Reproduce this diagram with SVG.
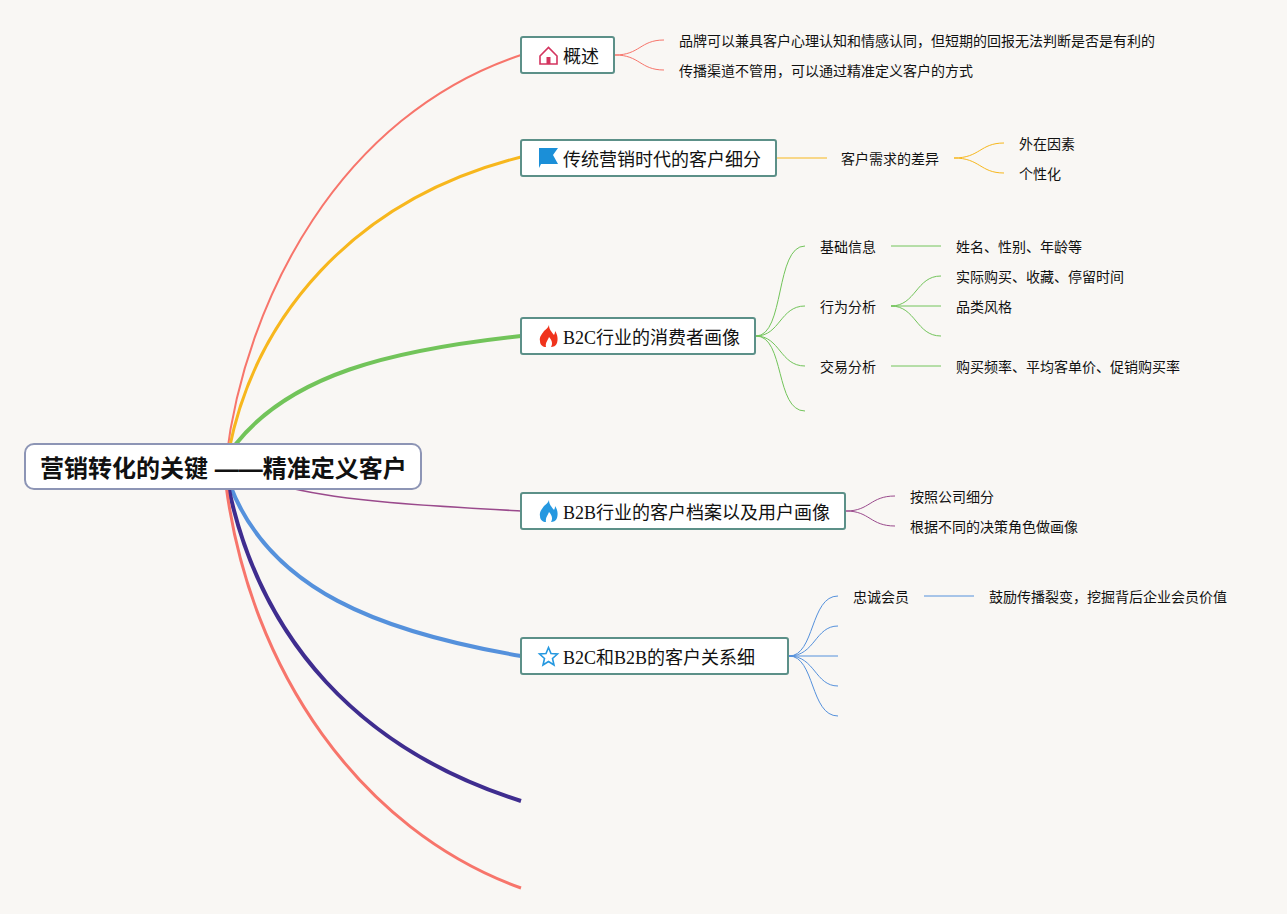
<svg xmlns="http://www.w3.org/2000/svg" width="1287" height="914" viewBox="0 0 1287 914">
<style>
text{font-family:"Liberation Serif","Noto Sans CJK SC",serif;fill:#111}
.l{font-size:14px;font-family:"Liberation Sans","Noto Sans CJK SC",sans-serif}
.m{font-size:18px}
.b{fill:#fff;stroke:#5c9088;stroke-width:2}
.c{fill:none}
</style>
<defs>
<path id="flame" d="M549 325C549 330 552 332 554 335C555 333 555 332 555 331C558 335 558 340 557 343C556 346 553 347 551 347C553 344 552 340 549 337C548 340 545 343 546 347C543 347 540 345 540 341C539 337 542 334 544 331C546 329 548 328 549 325Z"/>
</defs>
<rect width="1287" height="914" fill="#f9f7f4"/>
<g id="connectors" class="c">
<path d="M226 460C245 300 340 115 521 55" stroke="#f7756b" stroke-width="2"/>
<path d="M229 450C255 320 350 200 521 157" stroke="#f7b71d" stroke-width="3"/>
<path d="M235 445C290 375 390 350 521 336" stroke="#72c45a" stroke-width="4"/>
<path d="M290 488C350 502 430 506 521 511" stroke="#9a4a8c" stroke-width="1.600"/>
<path d="M230 485C270 590 380 632 521 656" stroke="#5591dc" stroke-width="4"/>
<path d="M228 485C260 640 360 750 521 801" stroke="#3f2d8f" stroke-width="4"/>
<path d="M226 485C250 670 360 830 521 888" stroke="#f7756b" stroke-width="3"/>
<g stroke="#f7756b" stroke-width="1">
<path d="M615 55C640 55 640 40 664 40"/><path d="M615 55C640 55 640 70 664 70"/>
</g>
<g stroke="#f7b71d" stroke-width="1">
<path d="M777 158H827"/>
<path d="M954 158C980 158 980 143 1004 143"/><path d="M954 158C980 158 980 173 1004 173"/>
</g>
<g stroke="#72c45a" stroke-width="1">
<path d="M756 336C785 336 775 246 805 246"/>
<path d="M756 336C780 336 780 306 805 306"/>
<path d="M756 336C780 336 780 366 805 366"/>
<path d="M756 336C785 336 775 411 805 411"/>
<path d="M891 246H941"/>
<path d="M891 306C916 306 916 276 941 276"/>
<path d="M891 306H941"/>
<path d="M891 306C916 306 916 336 941 336"/>
<path d="M891 366H941"/>
</g>
<g stroke="#9a4a8c" stroke-width="1">
<path d="M846 511C870 511 870 496 895 496"/><path d="M846 511C870 511 870 526 895 526"/>
</g>
<g stroke="#5591dc" stroke-width="1">
<path d="M789 656C815 656 810 596 838 596"/>
<path d="M789 656C815 656 815 626 838 626"/>
<path d="M789 656H838"/>
<path d="M789 656C815 656 815 686 838 686"/>
<path d="M789 656C815 656 810 716 838 716"/>
<path d="M924 596H974"/>
</g>
</g>
<g id="root">
<rect x="25" y="444" width="396" height="45" rx="9" fill="#fff" stroke="#8d95b5" stroke-width="2"/>
<text x="40" y="477" font-size="24" font-weight="700" style="font-family:'Liberation Sans','Noto Sans CJK SC',sans-serif">营销转化的关键 ——精准定义客户</text>
</g>
<g id="n1">
<rect class="b" x="521" y="37" width="93" height="36" rx="2"/>
<path d="M540 56L548.500 47.500L557 56V64H540Z" fill="none" stroke="#d4345f" stroke-width="1.600"/>
<rect x="546.500" y="57" width="4" height="7" fill="#d4345f"/>
<text class="m" x="563" y="63">概述</text>
</g>
<g id="n2">
<rect class="b" x="521" y="140" width="255" height="36" rx="2"/>
<path d="M539 148H558L553 155L558 164H541L539 168Z" fill="#1b8fd8"/>
<text class="m" x="563" y="166">传统营销时代的客户细分</text>
</g>
<g id="n3">
<rect class="b" x="521" y="318" width="234" height="36" rx="2"/>
<use href="#flame" fill="#f0331c"/>
<text class="m" x="563" y="344">B2C行业的消费者画像</text>
</g>
<g id="n4">
<rect class="b" x="521" y="493" width="324" height="36" rx="2"/>
<use href="#flame" y="175" fill="#2598e0"/>
<text class="m" x="563" y="519">B2B行业的客户档案以及用户画像</text>
</g>
<g id="n5">
<rect class="b" x="521" y="638" width="267" height="36" rx="2"/>
<path d="M548.500 647.500L551 653.500L557.500 654L552.500 658.500L554 665L548.500 661.500L543 665L544.500 658.500L539.500 654L546 653.500Z" fill="#fff" stroke="#2598e0" stroke-width="1.600"/>
<text class="m" x="563" y="664">B2C和B2B的客户关系细</text>
</g>
<g id="labels">
<text class="l" x="679" y="46">品牌可以兼具客户心理认知和情感认同，但短期的回报无法判断是否是有利的</text>
<text class="l" x="679" y="76">传播渠道不管用，可以通过精准定义客户的方式</text>
<text class="l" x="841" y="164">客户需求的差异</text>
<text class="l" x="1019" y="149">外在因素</text>
<text class="l" x="1019" y="179">个性化</text>
<text class="l" x="820" y="252">基础信息</text>
<text class="l" x="956" y="252">姓名、性别、年龄等</text>
<text class="l" x="820" y="312">行为分析</text>
<text class="l" x="956" y="282">实际购买、收藏、停留时间</text>
<text class="l" x="956" y="312">品类风格</text>
<text class="l" x="820" y="372">交易分析</text>
<text class="l" x="956" y="372">购买频率、平均客单价、促销购买率</text>
<text class="l" x="910" y="502">按照公司细分</text>
<text class="l" x="910" y="532">根据不同的决策角色做画像</text>
<text class="l" x="853" y="602">忠诚会员</text>
<text class="l" x="989" y="602">鼓励传播裂变，挖掘背后企业会员价值</text>
</g>
</svg>
